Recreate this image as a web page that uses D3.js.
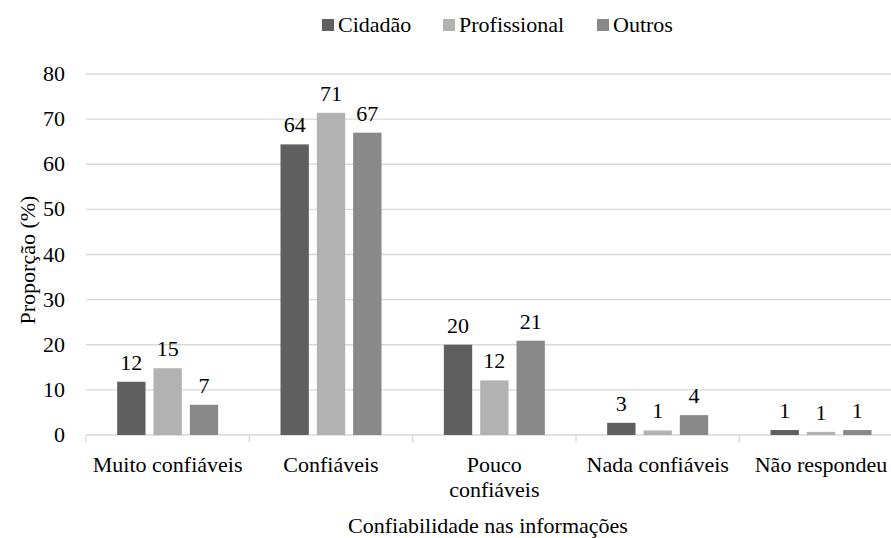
<!DOCTYPE html>
<html>
<head>
<meta charset="utf-8">
<script src="https://cdnjs.cloudflare.com/ajax/libs/d3/7.8.5/d3.min.js"></script>
<style>
  @font-face {
    font-family: "RefSerif";
    src: local("Liberation Serif"), local("LiberationSerif"), local("LiberationSerif-Regular"),
         local("Times New Roman"), local("Tinos"), local("FreeSerif");
  }
</style>
</head>
<body style="margin:0">
<script>
let w = 891;
let h = 538;

let categories = ["Muito confiáveis", "Confiáveis", "Pouco confiáveis", "Nada confiáveis", "Não respondeu"];
let series = ["Cidadão", "Profissional", "Outros"];
let cidadao = [11.8, 64.4, 20.0, 2.7, 1.1];
let profissional = [14.8, 71.4, 12.1, 1.0, 0.7];
let outros = [6.7, 67.0, 20.9, 4.4, 1.1];
let yTicks = [0, 10, 20, 30, 40, 50, 60, 70, 80];
let colors = ["#5f5f5f", "#b2b2b2", "#898989"];

let values = [cidadao, profissional, outros];
let fontSize = 22;
let fontStack = "'Liberation Serif', RefSerif, 'Times New Roman', Tinos, FreeSerif, monospace";

let plotLeft = 86, plotRight = 902.7, plotTop = 74, plotBottom = 435;

let x0 = d3.scaleBand()
  .domain(categories)
  .range([plotLeft, plotRight]);

let groupW = 101;
let x1 = d3.scaleBand()
  .domain(series)
  .range([(x0.bandwidth() - groupW) / 2, (x0.bandwidth() + groupW) / 2])
  .paddingInner(0.22);

let yScale = d3.scaleLinear()
  .domain([0, 80])
  .range([plotBottom, plotTop]);

let svg = d3.select("body")
  .append("svg")
  .attr("width", w)
  .attr("height", h);

// all text in the reference is a Times-like serif
function setFont(sel) {
  sel.style("font-family", fontStack)
    .attr("font-size", fontSize + "px")
    .attr("fill", "#000");
}

//Grid lines
svg.append("g")
  .selectAll("line")
  .data(yTicks.slice(1))
  .enter()
  .append("line")
  .attr("x1", plotLeft)
  .attr("x2", plotRight)
  .attr("y1", d => yScale(d))
  .attr("y2", d => yScale(d))
  .attr("stroke", "#d9d9d9")
  .attr("stroke-width", 1.3);

//X axis line with separators between categories
svg.append("line")
  .attr("x1", plotLeft)
  .attr("x2", plotRight)
  .attr("y1", yScale(0))
  .attr("y2", yScale(0))
  .attr("stroke", "#d9d9d9")
  .attr("stroke-width", 1.3);

svg.append("g")
  .selectAll("line")
  .data(d3.range(categories.length + 1))
  .enter()
  .append("line")
  .attr("x1", i => plotLeft + i * x0.bandwidth())
  .attr("x2", i => plotLeft + i * x0.bandwidth())
  .attr("y1", plotBottom)
  .attr("y2", plotBottom + 7)
  .attr("stroke", "#d9d9d9")
  .attr("stroke-width", 1.3);

//Y tick labels
svg.selectAll(".ytick")
  .data(yTicks)
  .enter()
  .append("text")
  .attr("class", "ytick")
  .call(setFont)
  .text(d => d)
  .attr("x", 65)
  .attr("y", d => yScale(d) + 7)
  .attr("text-anchor", "end");

//Bars
let groups = svg.append("g")
  .selectAll("g")
  .data(categories)
  .enter()
  .append("g")
  .attr("transform", d => "translate(" + x0(d) + ",0)");

groups.selectAll("rect")
  .data((c, ci) => series.map((s, si) => ({ s: s, si: si, v: values[si][ci] })))
  .enter()
  .append("rect")
  .attr("x", d => x1(d.s))
  .attr("y", d => yScale(d.v))
  .attr("width", x1.bandwidth())
  .attr("height", d => plotBottom - yScale(d.v))
  .attr("fill", d => colors[d.si]);

groups.selectAll("text")
  .data((c, ci) => series.map((s, si) => ({ s: s, si: si, v: values[si][ci] })))
  .enter()
  .append("text")
  .call(setFont)
  .text(d => d3.format(".0f")(d.v))
  .attr("x", d => x1(d.s) + x1.bandwidth() / 2)
  .attr("y", d => yScale(d.v) - 12)
  .attr("text-anchor", "middle");

//Category labels
let catLabels = svg.selectAll(".cat")
  .data(categories)
  .enter()
  .append("text")
  .attr("class", "cat")
  .call(setFont)
  .attr("x", d => x0(d) + x0.bandwidth() / 2)
  .attr("y", 472)
  .attr("text-anchor", "middle");

catLabels.each(function(d) {
  let lines = d === "Pouco confiáveis" ? ["Pouco", "confiáveis"] : [d];
  let t = d3.select(this);
  lines.forEach((l, i) => {
    t.append("tspan")
      .attr("x", x0(d) + x0.bandwidth() / 2)
      .attr("dy", i === 0 ? 0 : 25)
      .text(l);
  });
});

//Axis titles
svg.append("text")
  .call(setFont)
  .text("Confiabilidade nas informações")
  .attr("x", 488)
  .attr("y", 533)
  .attr("text-anchor", "middle");

svg.append("text")
  .call(setFont)
  .text("Proporção (%)")
  .attr("transform", "translate(35,260) rotate(-90)")
  .attr("text-anchor", "middle");

//Legend
let legendX = [322, 443, 597];
let legend = svg.append("g")
  .selectAll("g")
  .data(series)
  .enter()
  .append("g")
  .attr("transform", (d, i) => "translate(" + legendX[i] + ",19)");

legend.append("rect")
  .attr("width", 12)
  .attr("height", 12)
  .attr("fill", (d, i) => colors[i]);

legend.append("text")
  .call(setFont)
  .text(d => d)
  .attr("x", 16)
  .attr("y", 13);
</script>
</body>
</html>
